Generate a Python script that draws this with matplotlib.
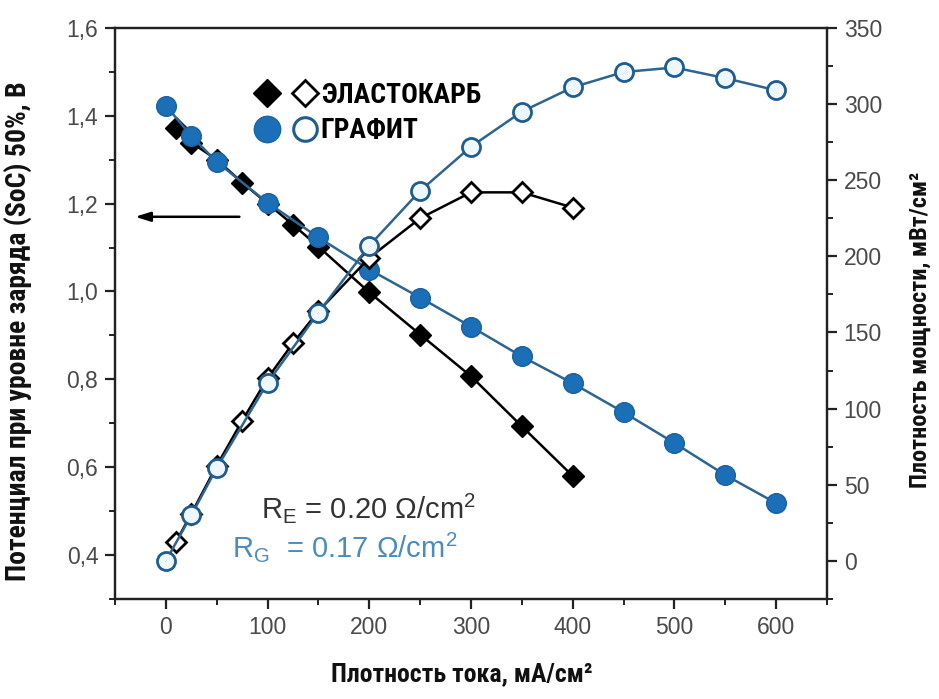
import matplotlib
matplotlib.use("Agg")
import matplotlib.pyplot as plt
from matplotlib.lines import Line2D
from matplotlib.legend_handler import HandlerTuple
from matplotlib.ticker import MultipleLocator, FixedLocator
from matplotlib import font_manager as fm

# ---------------- data ----------------
x_elast_v = [10, 25, 50, 75, 100, 125, 150, 200, 250, 300, 350, 400]
v_elast = [1.373, 1.339, 1.300, 1.248, 1.200, 1.152, 1.102, 0.998, 0.902, 0.807, 0.693, 0.580]

x_graph_v = [0, 25, 50, 100, 150, 200, 250, 300, 350, 400, 450, 500, 550, 600]
v_graph = [1.423, 1.354, 1.295, 1.202, 1.123, 1.050, 0.986, 0.920, 0.852, 0.791, 0.725, 0.655, 0.582, 0.518]

x_elast_p = [10, 25, 50, 75, 100, 125, 150, 200, 250, 300, 350, 400]
p_elast = [12.5, 31, 62.5, 92, 120, 143, 164, 199, 225, 242, 242, 232]

x_graph_p = [0, 25, 50, 100, 150, 200, 250, 300, 350, 400, 450, 500, 550, 600]
p_graph = [0, 30, 61, 117, 163, 207, 243, 272, 295, 311, 321, 324, 317, 309]

legend_labels = ["ЭЛАСТОКАРБ", "ГРАФИТ"]
xlabel = "Плотность тока, мА/см²"
ylabel_left = "Потенциал при уровне заряда (SoC) 50%, В"
ylabel_right = "Плотность мощности, мВт/см²"
x_ticks = [0, 100, 200, 300, 400, 500, 600]
yl_ticks = [0.4, 0.6, 0.8, 1.0, 1.2, 1.4, 1.6]
yl_ticklabels = ["0,4", "0,6", "0,8", "1,0", "1,2", "1,4", "1,6"]
yr_ticks = [0, 50, 100, 150, 200, 250, 300, 350]

# ---------------- style ----------------
plt.rcParams['font.family'] = ['Liberation Sans', 'DejaVu Sans']
plt.rcParams['mathtext.fontset'] = 'custom'
plt.rcParams['mathtext.rm'] = 'Liberation Sans'
plt.rcParams['mathtext.it'] = 'Liberation Sans'
plt.rcParams['mathtext.default'] = 'regular'

installed = {f.name for f in fm.fontManager.ttflist}
COND = [f for f in ['Roboto Condensed', 'Liberation Sans Narrow', 'Open Sans Condensed',
                    'DejaVu Sans Condensed'] if f in installed] + ['DejaVu Sans']
cond_stretch = 'condensed'

BLUE_FILL = "#1b6fb6"
BLUE_EDGE = "#1c64a3"
BLUE_LINE = "#2c6591"
OPEN_EDGE = "#1f5d90"
TICKC = "#4a4a4a"

fig = plt.figure(figsize=(9.39, 6.99), dpi=100)
ax = fig.add_axes([0.1225, 0.1431, 0.7582, 0.817])
ax2 = ax.twinx()

# voltage curves
ax.plot(x_elast_v, v_elast, color="black", lw=1.8, marker="D", ms=11,
        mfc="black", mec="black", mew=1, zorder=3)
ax.plot(x_graph_v, v_graph, color=BLUE_LINE, lw=1.8, marker="o", ms=14,
        mfc=BLUE_FILL, mec=BLUE_EDGE, mew=1.2, zorder=4)

# power curves
ax2.plot(x_elast_p, p_elast, color="black", lw=1.8, marker="D", ms=10.5,
         mfc="white", mec="black", mew=2, zorder=3)
ax2.plot(x_graph_p, p_graph, color=BLUE_LINE, lw=1.8, marker="o", ms=13,
         mfc="#eef7fd", mec=OPEN_EDGE, mew=2, zorder=4)

# limits & ticks
ax.set_xlim(-50, 650)
ax.set_ylim(0.3, 1.6)
ax2.set_ylim(-25, 350)
ax.xaxis.set_major_locator(FixedLocator(x_ticks))
ax.xaxis.set_minor_locator(MultipleLocator(50))
ax.yaxis.set_major_locator(FixedLocator(yl_ticks))
ax.set_yticklabels(yl_ticklabels)
ax.yaxis.set_minor_locator(MultipleLocator(0.1))
ax2.yaxis.set_major_locator(FixedLocator(yr_ticks))
ax2.yaxis.set_minor_locator(MultipleLocator(25))

for a in (ax, ax2):
    for s in a.spines.values():
        s.set_linewidth(1.6)
        s.set_color("#222222")
ax.tick_params(axis='both', which='major', direction='out', length=7, width=1.6,
               labelsize=16.5, labelcolor=TICKC, color="#222222", pad=5)
ax.tick_params(axis='both', which='minor', direction='out', length=4.5, width=1.4,
               color="#222222")
ax.tick_params(axis='x', which='both', top=False)
ax2.tick_params(axis='y', which='major', direction='out', length=7, width=1.6,
                labelsize=16.5, labelcolor=TICKC, color="#222222", pad=5)
ax2.tick_params(axis='y', which='minor', direction='out', length=4.5, width=1.4,
                color="#222222")

lab_kw = dict(family=COND, fontstretch=cond_stretch, fontweight='bold', color="#111111")
ax.set_xlabel(xlabel, fontsize=18.5, **lab_kw)
ax.xaxis.set_label_coords(0.487, -0.110)
ax.set_ylabel(ylabel_left, fontsize=20, **lab_kw)
ax.yaxis.set_label_coords(-0.117, 0.469)
ax2.set_ylabel(ylabel_right, fontsize=17.5, **lab_kw)
ax2.yaxis.set_label_coords(1.115, 0.472)

# legend
h_e = (Line2D([], [], ls='none', marker='D', ms=14, mfc='black', mec='black'),
       Line2D([], [], ls='none', marker='D', ms=13, mfc='white', mec='black', mew=2))
h_g = (Line2D([], [], ls='none', marker='o', ms=19, mfc=BLUE_FILL, mec=BLUE_EDGE),
       Line2D([], [], ls='none', marker='o', ms=17, mfc='white', mec=OPEN_EDGE, mew=2.2))
leg = ax2.legend([h_e, h_g], legend_labels,
                 handler_map={tuple: HandlerTuple(ndivide=None, pad=0.8)},
                 loc='upper left', bbox_to_anchor=(0.168, 0.949), frameon=False,
                 handlelength=1.9, handletextpad=0.3, labelspacing=0.3,
                 prop={'family': COND, 'weight': 'bold', 'size': 20,
                       'stretch': cond_stretch})

# arrow pointing to left axis
ax.annotate("", xy=(-33, 1.17), xytext=(75, 1.17),
            arrowprops=dict(arrowstyle="-|>,head_length=0.9,head_width=0.28",
                            color="black", lw=1.8))

# resistance annotations
ax.text(94, 0.507, r"R$_{E}$ = 0.20 Ω/cm$^{2}$", fontsize=21, color="#333333",
        ha='left', va='center')
ax.text(65, 0.418, r"R$_{G}$  = 0.17 Ω/cm$^{2}$", fontsize=21, color="#4a8cc0",
        ha='left', va='center')

fig.savefig("out.png", dpi=100)
